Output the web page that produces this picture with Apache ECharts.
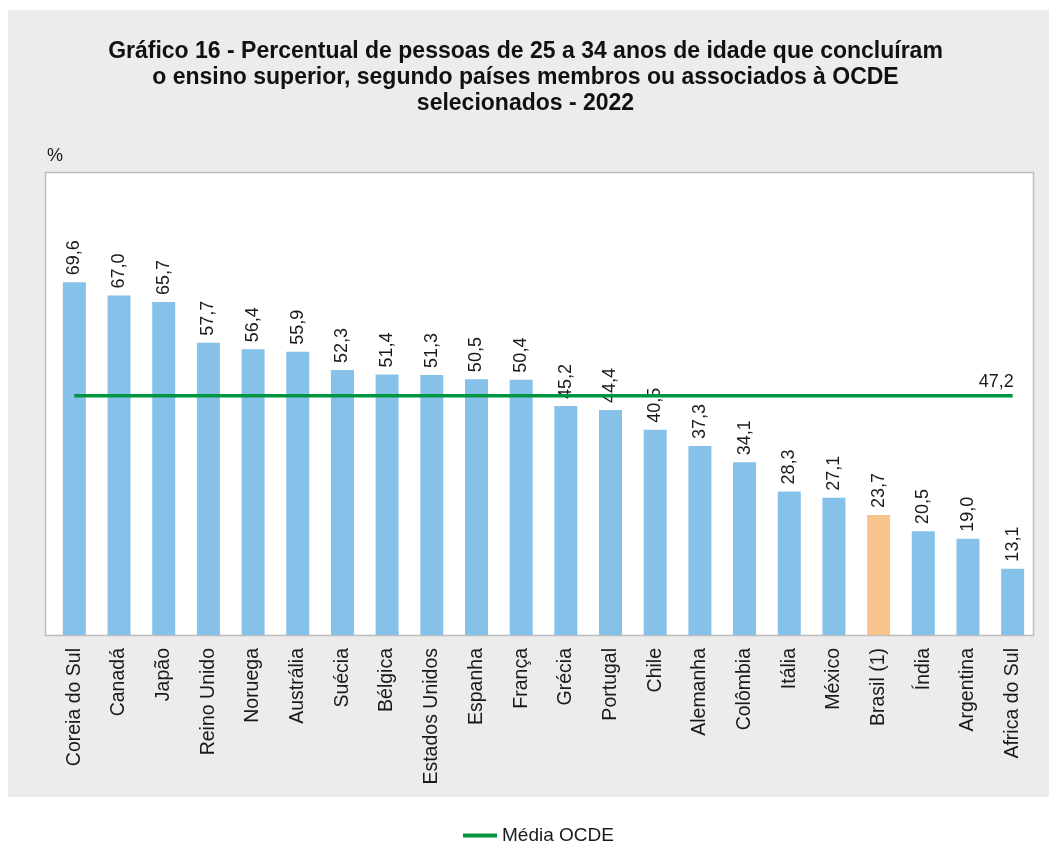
<!DOCTYPE html>
<html>
<head>
<meta charset="utf-8">
<script src="https://cdn.jsdelivr.net/npm/echarts@6/dist/echarts.min.js"></script>
<style>
  html, body { margin: 0; padding: 0; background: #ffffff; }
  #chart { width: 1051px; height: 845px; }
</style>
</head>
<body>
<div id="chart"></div>
<script>
const titleLines = [
  'Gráfico 16 - Percentual de pessoas de 25 a 34 anos de idade que concluíram',
  'o ensino superior, segundo países membros ou associados à OCDE',
  'selecionados - 2022'
];
const unitLabel = '%';
const categories = ['Coreia do Sul', 'Canadá', 'Japão', 'Reino Unido', 'Noruega', 'Austrália', 'Suécia', 'Bélgica', 'Estados Unidos', 'Espanha', 'França', 'Grécia', 'Portugal', 'Chile', 'Alemanha', 'Colômbia', 'Itália', 'México', 'Brasil (1)', 'Índia', 'Argentina', 'Africa do Sul'];
const values = [69.6, 67.0, 65.7, 57.7, 56.4, 55.9, 52.3, 51.4, 51.3, 50.5, 50.4, 45.2, 44.4, 40.5, 37.3, 34.1, 28.3, 27.1, 23.7, 20.5, 19.0, 13.1];
const oecdAverage = 47.2;
const oecdName = 'Média OCDE';
const highlightCategory = 'Brasil (1)';

const fmt = v => Number(v).toFixed(1).replace('.', ',');
const FONT = '"Liberation Sans", Arial, sans-serif';
const TEXT = '#1a1a1a';
const BLUE = '#85c1e8';
const ORANGE = '#f8c38c';
const GREEN = '#00963f';

const chart = echarts.init(document.getElementById('chart'), null, { renderer: 'canvas' });

chart.setOption({
  backgroundColor: '#ffffff',
  animation: false,
  textStyle: { fontFamily: FONT },
  title: {
    text: titleLines.join('\n'),
    left: 'center',
    top: 39,
    padding: 0,
    textStyle: { fontFamily: FONT, fontSize: 23, fontWeight: 'bold', color: '#111111', lineHeight: 26 }
  },
  graphic: [
    { type: 'rect', z: -20, silent: true, shape: { x: 8, y: 10, width: 1041, height: 787 }, style: { fill: '#ececec' } },
    { type: 'rect', z: -10, silent: true, shape: { x: 45.5, y: 172.5, width: 988, height: 463 }, style: { fill: '#ffffff', stroke: '#bdbdbd', lineWidth: 1.5 } },
    { type: 'text', z: 5, silent: true, left: 47, top: 147, style: { text: unitLabel, font: '18px ' + FONT, fill: TEXT } }
  ],
  legend: {
    data: [oecdName],
    top: 821,
    left: 458,
    icon: 'rect',
    itemWidth: 34,
    itemHeight: 4,
    itemGap: 10,
    textStyle: { fontFamily: FONT, fontSize: 19, color: TEXT, padding: [0, 0, 0, 0] }
  },
  grid: { left: 52, top: 179, width: 983, height: 456, containLabel: false },
  xAxis: {
    type: 'category',
    data: categories,
    boundaryGap: true,
    axisLine: { show: false },
    axisTick: { show: false },
    axisLabel: { rotate: 90, margin: 13, fontFamily: FONT, fontSize: 19.5, color: TEXT, interval: 0 }
  },
  yAxis: {
    type: 'value',
    min: 0,
    max: 90,
    show: false,
    splitLine: { show: false }
  },
  series: [
    {
      type: 'bar',
      name: 'Percentual',
      data: values,
      barWidth: 23,
      itemStyle: { color: p => p.name === highlightCategory ? ORANGE : BLUE },
      label: {
        show: true,
        position: 'top',
        rotate: 90,
        align: 'left',
        verticalAlign: 'middle',
        distance: 7,
        fontFamily: FONT,
        fontSize: 18,
        color: TEXT,
        formatter: p => fmt(p.value)
      },
      z: 2
    },
    {
      type: 'line',
      name: oecdName,
      data: categories.map(() => oecdAverage),
      symbol: 'none',
      lineStyle: { color: GREEN, width: 3.5 },
      itemStyle: { color: GREEN },
      endLabel: {
        show: true,
        distance: 0,
        align: 'right',
        verticalAlign: 'bottom',
        offset: [1, -5],
        fontFamily: FONT,
        fontSize: 18,
        color: TEXT,
        formatter: p => fmt(p.value)
      },
      z: 3
    }
  ]
});
</script>
</body>
</html>
